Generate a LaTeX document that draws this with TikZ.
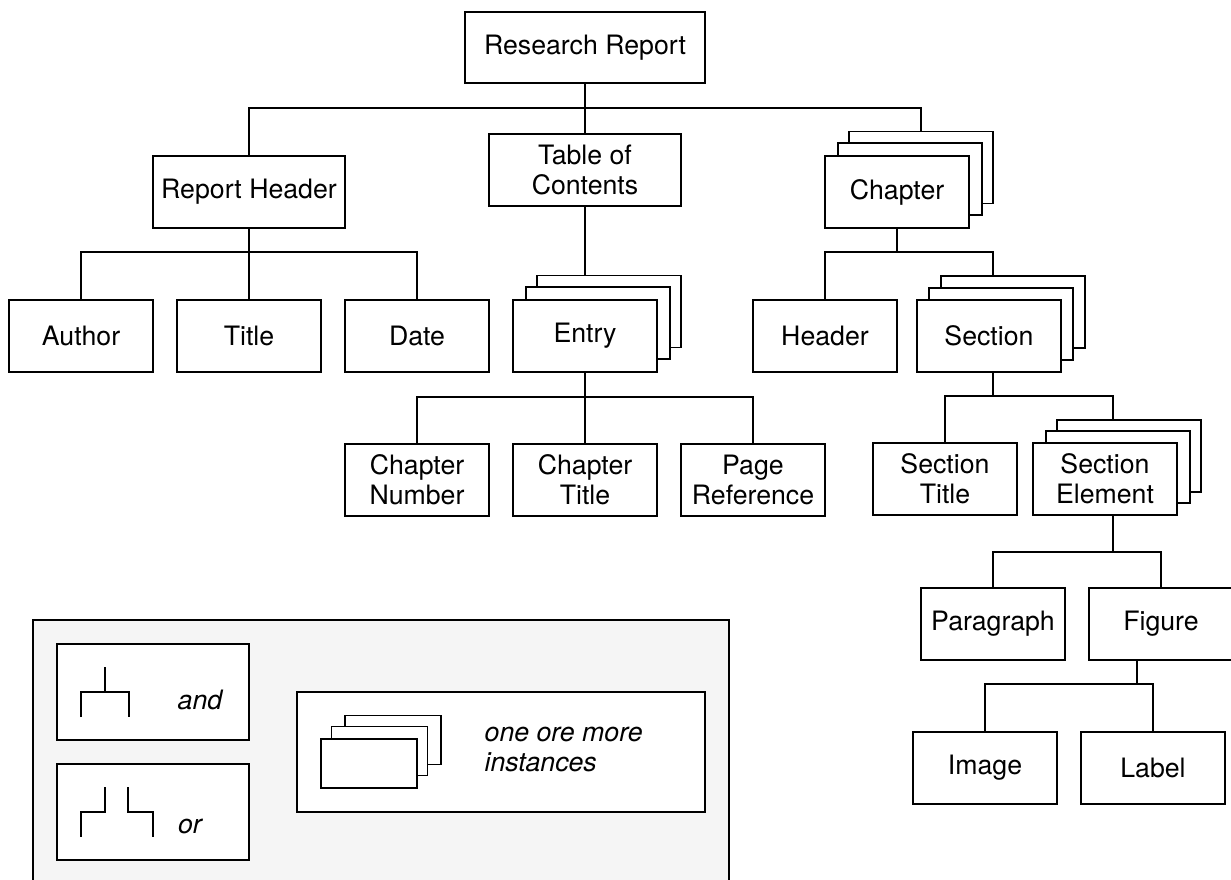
\documentclass[tikz,border=0pt]{standalone}
\usepackage{fontspec}
\setmainfont{TeX Gyre Heros}
\newcommand\fsz{\fontsize{13.35}{15}\selectfont}
\definecolor{legendgray}{HTML}{F5F5F5}
\begin{document}
\begin{tikzpicture}[x=0.5pt,y=-0.5pt,line width=0.65pt,
  box/.style={draw,fill=white,inner sep=0pt,minimum width=72pt,minimum height=36pt,align=center,font=\fsz},
  wide/.style={box,minimum width=96pt},
  lbox/.style={draw,fill=white,inner sep=0pt,minimum width=96pt,minimum height=48pt},
  ltext/.style={font=\fsz\itshape,inner sep=0pt,align=left},
  conn/.style={draw,line width=0.65pt}]
\useasboundingbox (0,0) rectangle (1231,879);
\clip (0,0) rectangle (1231,879);

% legend background
\path[fill=legendgray,draw] (33,900) -- (33,620) -- (729,620) -- (729,900);

% top
\node[box,minimum width=120pt,minimum height=35.5pt] (rr) at (585,47.5) {Research Report};
\node[wide] (rh) at (249,192) {Report Header};
\node[wide] (toc) at (585,170) {Table of\\Contents};
\node[box] (chapB) at (921,167.5) {};
\node[box] (chapM) at (910,179) {};
\node[box] (chap) at (897,192) {Chapter};

% row 2
\node[box] (author) at (81,336) {Author};
\node[box] (title) at (249,336) {Title};
\node[box] (date) at (417,336) {Date};
\node[box] (entryB) at (609,311.5) {};
\node[box] (entryM) at (598,323) {};
\node[box] (entry) at (585,336) {Entry};
\node[box] (header) at (825,336) {Header};
\node[box] (secB) at (1013,312) {};
\node[box] (secM) at (1001,324) {};
\node[box] (sec) at (989,336) {Section};

% row 3
\node[box] (cn) at (417,480) {Chapter\\Number};
\node[box] (ct) at (585,480) {Chapter\\Title};
\node[box] (pr) at (753,480) {Page\\Reference};
\node[box] (stitle) at (945,479) {Section\\Title};
\node[box] (seB) at (1129,456) {};
\node[box] (seM) at (1118,467) {};
\node[box] (se) at (1105,479) {Section\\Element};

% row 4,5
\node[box] (para) at (993,624) {Paragraph};
\node[box] (fig) at (1161,624) {Figure};
\node[box] (img) at (985,768) {Image};
\node[box] (lab) at (1153,768) {Label};

% bar coordinates
\coordinate (b1) at (585,108);
\coordinate (b2) at (249,252);
\coordinate (b3) at (585,397);
\coordinate (b4) at (897,252);
\coordinate (secIn) at (993,276);
\coordinate (secOut) at (993,372);
\coordinate (b5) at (993,396);
\coordinate (seIn) at (1113,420);
\coordinate (seOut) at (1113,515);
\coordinate (b6) at (1113,552);
\coordinate (figOut) at (1137,660);
\coordinate (b7) at (1137,684);

% connectors
\draw[conn] (rr.south) -- (toc.north);
\draw[conn] (rh.north) |- (b1) -| (chapB.north);
\draw[conn] (rh.south) -- (title.north);
\draw[conn] (author.north) |- (b2) -| (date.north);
\draw[conn] (toc.south) -- (toc.south |- entryB.north);
\draw[conn] (entry.south) -- (ct.north);
\draw[conn] (cn.north) |- (b3) -| (pr.north);
\draw[conn] (chap.south) -- (b4);
\draw[conn] (header.north) |- (b4) -| (secIn);
\draw[conn] (secOut) -- (b5);
\draw[conn] (stitle.north) |- (b5) -| (seIn);
\draw[conn] (seOut) -- (b6);
\draw[conn] (para.north) |- (b6) -| (fig.north);
\draw[conn] (figOut) -- (b7);
\draw[conn] (img.north) |- (b7) -| (lab.north);

% legend
\node[lbox] (andbox) at (153,692) {};
\node[lbox] (orbox) at (153,812) {};
\node[draw,fill=white,inner sep=0pt,minimum width=204pt,minimum height=60pt] (instbox) at (501,752) {};
\coordinate (a0) at (105,667);
\coordinate (a1) at (105,692);
\coordinate (aL) at (81,717);
\coordinate (aR) at (129,717);
\draw[conn] (a0) -- (a1);
\draw[conn] (aL) |- (a1) -| (aR);
\node[ltext] (andt) at (200,700) {and};
\coordinate (o0) at (105,787);
\coordinate (oL) at (81,837);
\coordinate (o1) at (128,787);
\coordinate (oR) at (153,837);
\draw[conn] (o0) |- (oL |- 0,812) -- (oL);
\draw[conn] (o1) |- (oR |- 0,812) -- (oR);
\node[ltext] (ort) at (190,826) {or};
\node[draw,fill=white,inner sep=0pt,minimum width=48pt,minimum height=24.5pt] (lsB) at (393,740) {};
\node[draw,fill=white,inner sep=0pt,minimum width=48pt,minimum height=24.5pt] (lsM) at (379.5,751) {};
\node[draw,fill=white,inner sep=0pt,minimum width=48pt,minimum height=24.5pt] (lsF) at (369,763.5) {};
\node[ltext,anchor=west] (instt) at (484,749) {one ore more\\instances};
\end{tikzpicture}
\end{document}
